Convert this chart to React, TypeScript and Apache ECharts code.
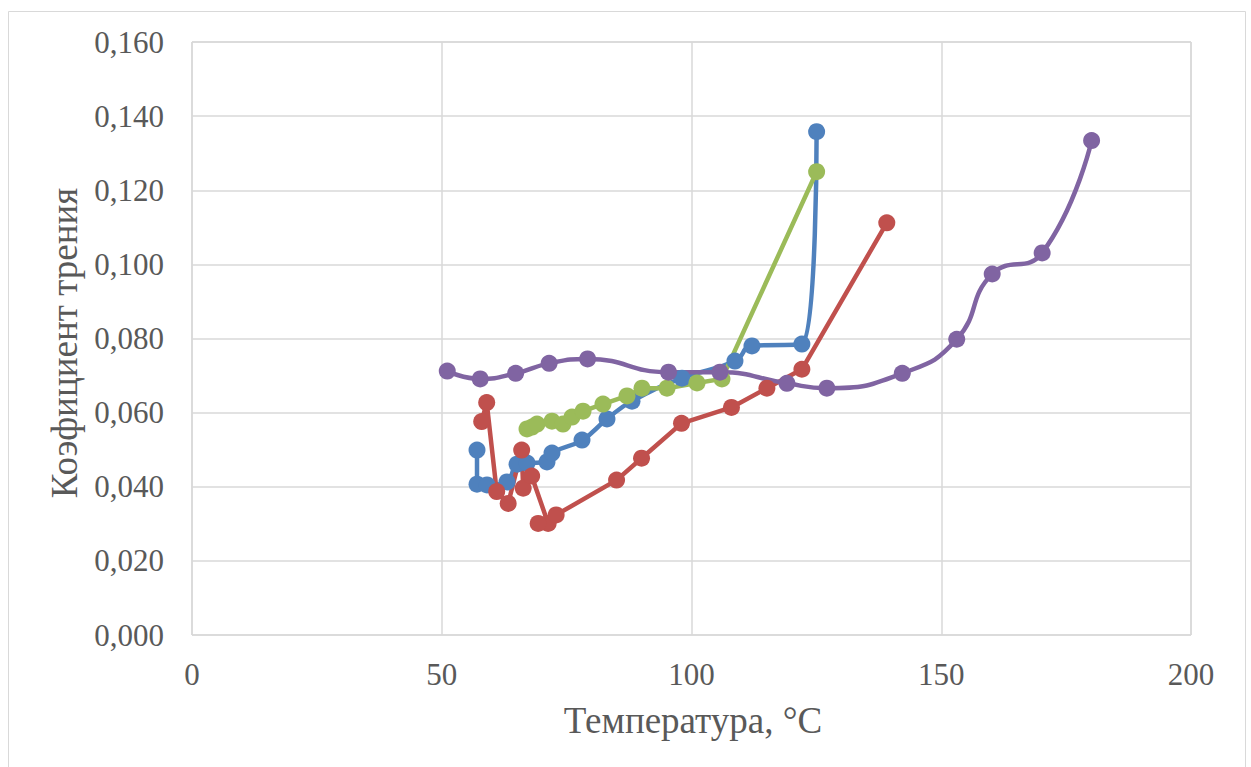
import React, { useEffect, useRef } from "react";
import * as echarts from "echarts";

const blueX = [57.06, 57.06, 59.06, 63.06, 65.07, 67.07, 71.07, 72.07, 78.08, 83.08, 88.09, 98.1, 108.7, 112.1, 122.1, 125.05];
const blueY = [0.0499, 0.0407, 0.0405, 0.0413, 0.0461, 0.0464, 0.0467, 0.0491, 0.0526, 0.0583, 0.0631, 0.0693, 0.0739, 0.078, 0.0785, 0.1358];

const redX = [58.0, 59.0, 61.0, 63.3, 66.0, 66.3, 68.0, 71.3, 69.3, 72.9, 85.0, 90.0, 98.0, 108.0, 115.1, 122.1, 139.1];
const redY = [0.0576, 0.0627, 0.0387, 0.0355, 0.0499, 0.0396, 0.0429, 0.0301, 0.0301, 0.0324, 0.0418, 0.0477, 0.0571, 0.0614, 0.0666, 0.0717, 0.1112];

const greenX = [67.07, 68.07, 69.07, 72.07, 74.27, 76.08, 78.28, 82.28, 87.09, 90.09, 95.1, 101.1, 106.1, 125.05];
const greenY = [0.0556, 0.0561, 0.0569, 0.0577, 0.0569, 0.0588, 0.0604, 0.0623, 0.0645, 0.0666, 0.0666, 0.068, 0.0691, 0.125];

const purpleX = [51.1, 57.7, 64.8, 71.5, 79.2, 95.4, 105.7, 119.1, 127.1, 142.2, 153.1, 160.2, 170.2, 180.1];
const purpleY = [0.0712, 0.0691, 0.0706, 0.0733, 0.0745, 0.0709, 0.0709, 0.0679, 0.0666, 0.0706, 0.0798, 0.0974, 0.1031, 0.1334];

const xTitle = "Температура, °C";
const yTitle = "Коэфициент трения";

const pairs = (xs: number[], ys: number[]) => xs.map((x, i) => [x, ys[i]]);

const FONT = "'Liberation Serif', 'Times New Roman', serif";
const TEXT = "#595959";

export default function App() {
  const ref = useRef<HTMLDivElement>(null);
  useEffect(() => {
    if (!ref.current) return;
    const chart = echarts.init(ref.current, undefined, { renderer: "svg" });
    const mk = (name: string, xs: number[], ys: number[], color: string, smooth: boolean) => ({
      name,
      type: "line",
      data: pairs(xs, ys),
      smooth: smooth ? 0.5 : false,
      symbol: "circle",
      symbolSize: 17,
      showSymbol: true,
      lineStyle: { color, width: 4.5 },
      itemStyle: { color, borderWidth: 0 },
      z: 2,
    });
    chart.setOption({
      animation: false,
      backgroundColor: "#ffffff",
      grid: {
        left: 192,
        top: 42,
        width: 999,
        height: 593,
        show: true,
        borderColor: "#c8c8c8",
        borderWidth: 1,
      },
      xAxis: {
        type: "value",
        min: 0,
        max: 200,
        interval: 50,
        axisLine: { show: false },
        axisTick: { show: false },
        splitLine: { show: true, lineStyle: { color: "#d9d9d9", width: 1.5 } },
        axisLabel: { color: TEXT, fontFamily: FONT, fontSize: 31, margin: 24 },
      },
      yAxis: {
        type: "value",
        min: 0,
        max: 0.16,
        interval: 0.02,
        axisLine: { show: false },
        axisTick: { show: false },
        splitLine: { show: true, lineStyle: { color: "#d9d9d9", width: 1.5 } },
        axisLabel: {
          color: TEXT,
          fontFamily: FONT,
          fontSize: 31,
          margin: 28,
          formatter: (v: number) => v.toFixed(3).replace(".", ","),
        },
      },
      graphic: [
        {
          type: "rect",
          shape: { x: 8.5, y: 11.5, width: 1237, height: 800 },
          style: { fill: "none", stroke: "#d9d9d9", lineWidth: 1 },
          silent: true,
        },
        {
          type: "text",
          x: 693,
          y: 720,
          style: {
            text: xTitle,
            fill: TEXT,
            font: `37px ${FONT}`,
            align: "center",
            verticalAlign: "middle",
          },
        },
        {
          type: "text",
          x: 64,
          y: 343,
          rotation: Math.PI / 2,
          style: {
            text: yTitle,
            fill: TEXT,
            font: `37px ${FONT}`,
            align: "center",
            verticalAlign: "middle",
          },
        },
      ],
      series: [
        mk("Серия1", blueX, blueY, "#4F81BD", true),
        mk("Серия2", redX, redY, "#C0504D", false),
        mk("Серия3", greenX, greenY, "#9BBB59", false),
        mk("Серия4", purpleX, purpleY, "#8064A2", true),
      ],
    });
    return () => chart.dispose();
  }, []);
  return (
    <div
      ref={ref}
      style={{ position: "absolute", left: 0, top: 0, width: 1251, height: 767 }}
    />
  );
}
